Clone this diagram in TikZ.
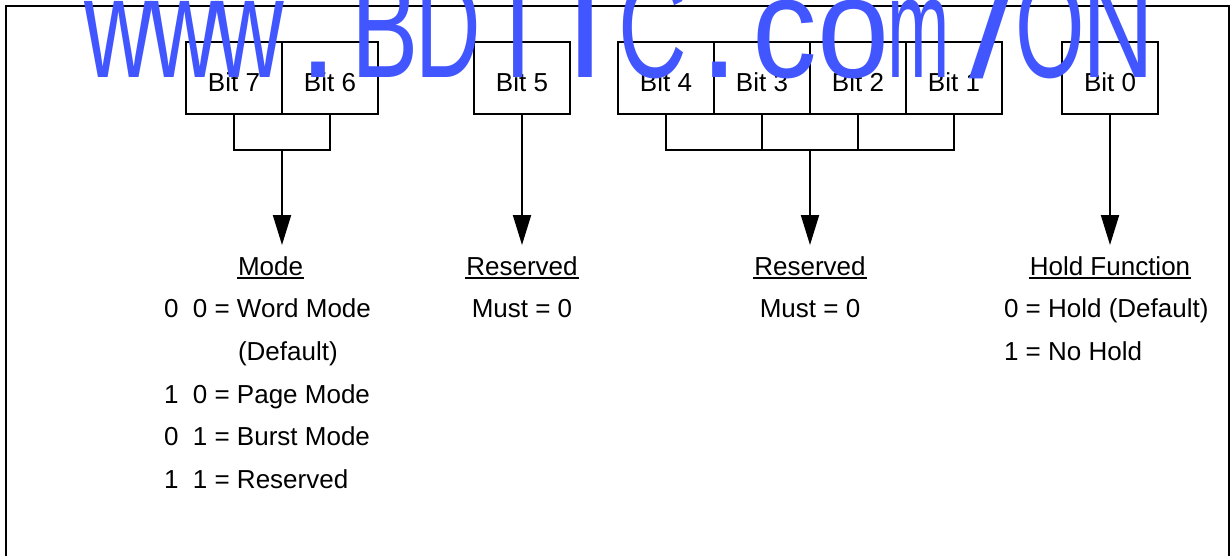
\documentclass[tikz,border=0pt]{standalone}
\usepackage{fontspec}
\setmainfont{Liberation Sans}
\usetikzlibrary{arrows.meta}
\definecolor{wmblue}{RGB}{66,86,255}
\begin{document}
\begin{tikzpicture}[x=1pt,y=-1pt,line width=2pt,
  bitbox/.style={draw,minimum width=96pt,minimum height=72pt,inner sep=0pt,
    text height=26pt,text depth=0pt,font=\fontsize{26}{30}\selectfont},
  lbl/.style={inner sep=0pt,font=\fontsize{26}{30}\selectfont},
  uline/.style={line width=1.5pt},
  arr/.style={-{Triangle[length=30pt,width=18pt]}},
  wmc/.style={inner sep=0pt,anchor=base,text=wmblue,font=\fontsize{144}{144}\selectfont}]
\useasboundingbox (0,0) rectangle (1231,555);
% frame
\draw (6,570) -- (6,6) -- (1229,6) -- (1229,570);
% bit boxes
\node[bitbox] (b7) at (234,78) {Bit 7};
\node[bitbox] (b6) at (330,78) {Bit 6};
\node[bitbox] (b5) at (522,78) {Bit 5};
\node[bitbox] (b4) at (666,78) {Bit 4};
\node[bitbox] (b3) at (762,78) {Bit 3};
\node[bitbox] (b2) at (858,78) {Bit 2};
\node[bitbox] (b1) at (954,78) {Bit 1};
\node[bitbox] (b0) at (1110,78) {Bit 0};
% connectors
\coordinate (j76) at (282,150);
\coordinate (t76) at (282,245);
\draw (b7.south) -- (b7.south |- j76) -- (b6.south |- j76) -- (b6.south);
\draw[arr] (j76) -- (t76);
\coordinate (j41) at (810,150);
\coordinate (t41) at (810,245);
\draw (b4.south) -- (b4.south |- j41) -- (b1.south |- j41) -- (b1.south);
\draw (b3.south) -- (b3.south |- j41);
\draw (b2.south) -- (b2.south |- j41);
\draw[arr] (j41) -- (t41);
\coordinate (t5) at (522,245);
\draw[arr] (b5.south) -- (t5);
\coordinate (t0) at (1110,245);
\draw[arr] (b0.south) -- (t0);
% texts
\node[lbl,anchor=base west] (mode) at (237,275) {Mode};
\draw[uline] ([yshift=-3pt]mode.base west) -- ([yshift=-3pt]mode.base east);
\node[lbl,anchor=base west] (m1) at (163,317) {0~~0 = Word Mode};
\node[lbl,anchor=base west] (m2) at (237,360) {(Default)};
\node[lbl,anchor=base west] (m3) at (163,403) {1~~0 = Page Mode};
\node[lbl,anchor=base west] (m4) at (163,445) {0~~1 = Burst Mode};
\node[lbl,anchor=base west] (m5) at (163,488) {1~~1 = Reserved};
\node[lbl,anchor=base] (r5) at (522,275) {Reserved};
\draw[uline] ([yshift=-3pt]r5.base west) -- ([yshift=-3pt]r5.base east);
\node[lbl,anchor=base] (r5m) at (522,317) {Must = 0};
\node[lbl,anchor=base] (r41) at (810,275) {Reserved};
\draw[uline] ([yshift=-3pt]r41.base west) -- ([yshift=-3pt]r41.base east);
\node[lbl,anchor=base] (r41m) at (810,317) {Must = 0};
\node[lbl,anchor=base] (hf) at (1110,275) {Hold Function};
\draw[uline] ([yshift=-3pt]hf.base west) -- ([yshift=-3pt]hf.base east);
\node[lbl,anchor=base west] (h0) at (1003,317) {0 = Hold (Default)};
\node[lbl,anchor=base west] (h1) at (1003,360) {1 = No Hold};
% watermark
\foreach \x/\s/\c [count=\i] in {118.5/0.66/w,184.5/0.66/w,250/0.66/w,318/1/.,
  385.5/0.7/B,448.5/0.63/D,518/0.7/T,585/1/I,652.5/0.66/C,719.5/1/.,
  785/0.9/c,853.5/0.9/o,919/0.52/m,993/1.2/\slash,1050/0.62/O,1118.5/0.69/N}
  \node[wmc] (wm\i) at (\x,77) {\scalebox{\s}[1]{\c}};
\end{tikzpicture}
\end{document}
